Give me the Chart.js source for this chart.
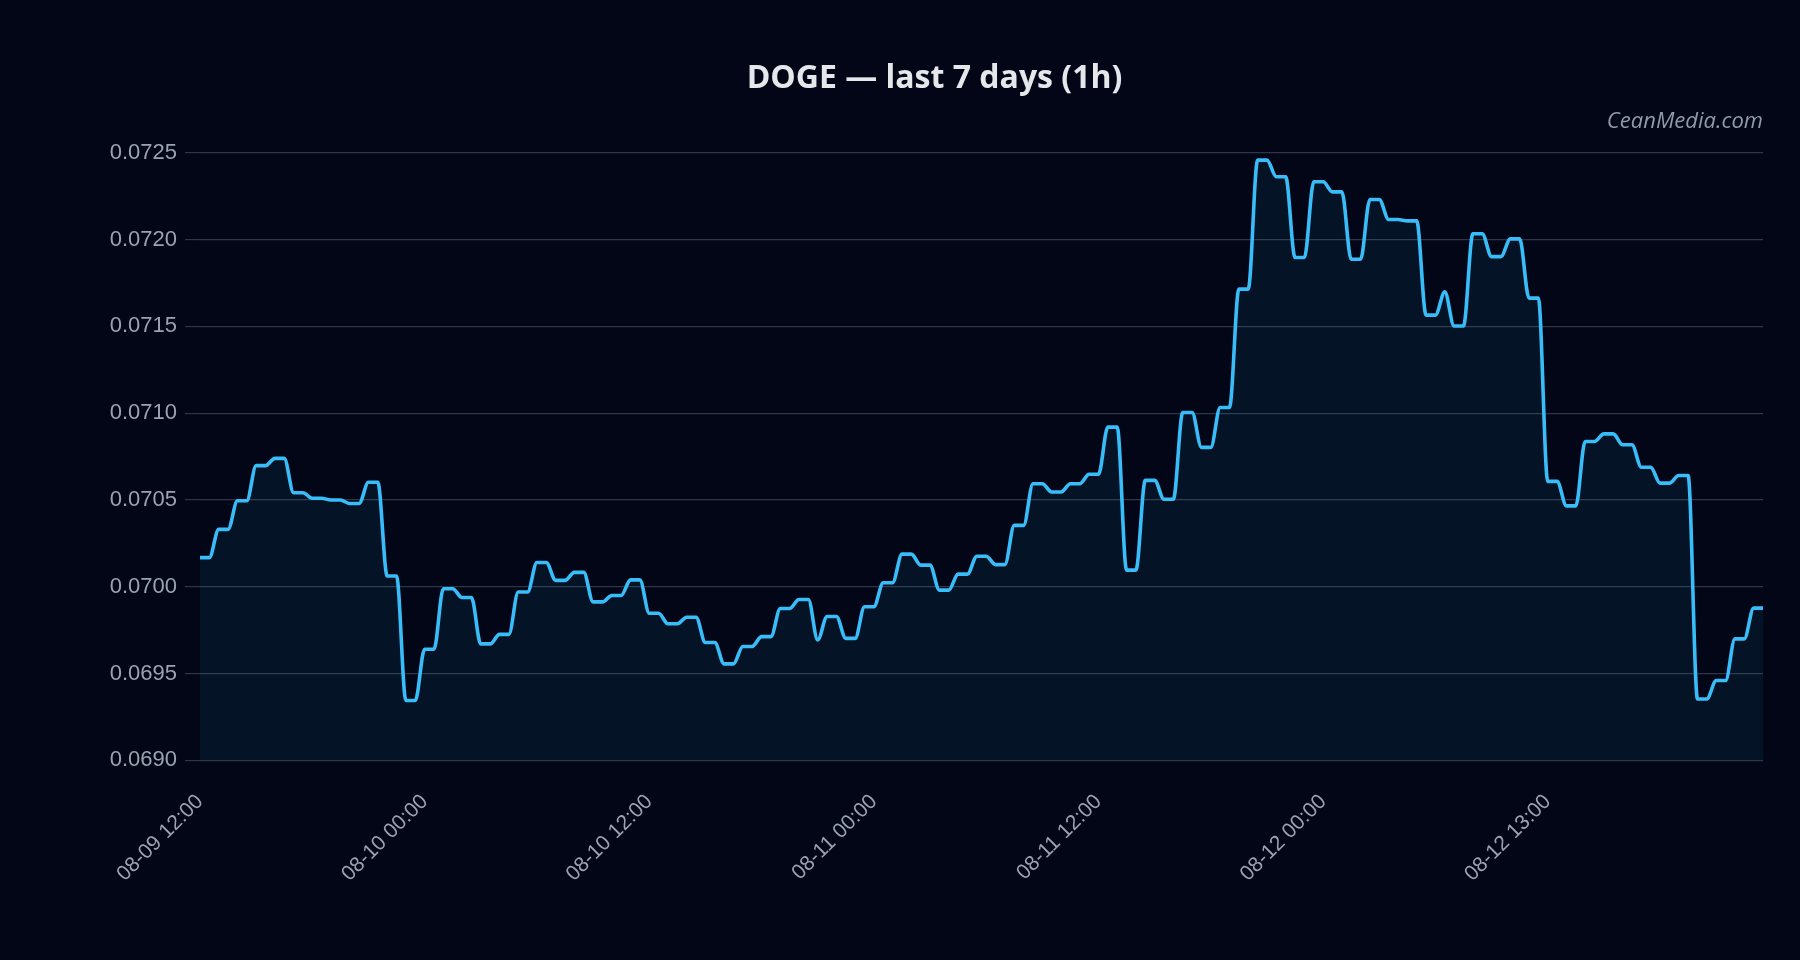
<!DOCTYPE html>
<html><head><meta charset="utf-8">
<script src="https://cdn.jsdelivr.net/npm/chart.js@4.4.1/dist/chart.umd.min.js"></script>
<style>html,body{margin:0;padding:0;background:#020617;}#wrap{width:1800px;height:960px;position:relative;}</style>
</head><body><div id="wrap"><canvas id="c"></canvas></div>
<script>
const titleText = 'DOGE — last 7 days (1h)';
const sourceText = 'CeanMedia.com';
const tickLabels = ['08-09 12:00','08-10 00:00','08-10 12:00','08-11 00:00','08-11 12:00','08-12 00:00','08-12 13:00'];
const tickIndex = [0, 24, 48, 72, 96, 120, 144];
const yTicks = [0.0690, 0.0695, 0.0700, 0.0705, 0.0710, 0.0715, 0.0720, 0.0725];
const prices = [
  0.070168, 0.070168, 0.070331, 0.070331, 0.070496, 0.070496, 0.070698, 0.070698,
  0.070740, 0.070740, 0.070542, 0.070542, 0.070510, 0.070510, 0.070500, 0.070500,
  0.070480, 0.070480, 0.070602, 0.070602, 0.070062, 0.070062, 0.069345, 0.069345,
  0.069640, 0.069640, 0.069989, 0.069989, 0.069938, 0.069938, 0.069671, 0.069671,
  0.069726, 0.069726, 0.069970, 0.069970, 0.070140, 0.070140, 0.070037, 0.070037,
  0.070083, 0.070083, 0.069913, 0.069913, 0.069950, 0.069950, 0.070040, 0.070040,
  0.069848, 0.069848, 0.069787, 0.069787, 0.069825, 0.069825, 0.069679, 0.069679,
  0.069556, 0.069556, 0.069656, 0.069656, 0.069713, 0.069713, 0.069875, 0.069875,
  0.069927, 0.069927, 0.069694, 0.069829, 0.069829, 0.069703, 0.069703, 0.069885,
  0.069885, 0.070023, 0.070023, 0.070188, 0.070188, 0.070125, 0.070125, 0.069981,
  0.069981, 0.070073, 0.070073, 0.070176, 0.070176, 0.070128, 0.070128, 0.070354,
  0.070354, 0.070594, 0.070594, 0.070546, 0.070546, 0.070594, 0.070594, 0.070648,
  0.070648, 0.070920, 0.070920, 0.070096, 0.070096, 0.070613, 0.070613, 0.070504,
  0.070504, 0.071004, 0.071004, 0.070803, 0.070803, 0.071033, 0.071033, 0.071715,
  0.071715, 0.072458, 0.072458, 0.072362, 0.072362, 0.071897, 0.071897, 0.072333,
  0.072333, 0.072275, 0.072275, 0.071887, 0.071887, 0.072231, 0.072231, 0.072116,
  0.072116, 0.072108, 0.072108, 0.071565, 0.071565, 0.071699, 0.071502, 0.071502,
  0.072034, 0.072034, 0.071902, 0.071902, 0.072004, 0.072004, 0.071663, 0.071663,
  0.070607, 0.070607, 0.070466, 0.070466, 0.070837, 0.070837, 0.070881, 0.070881,
  0.070818, 0.070818, 0.070689, 0.070689, 0.070597, 0.070597, 0.070641, 0.070641,
  0.069354, 0.069354, 0.069460, 0.069460, 0.069700, 0.069700, 0.069877, 0.069877
];

Chart.defaults.font.family = "'Liberation Sans', Arial, sans-serif";

const bgPlugin = {
  id: 'bg',
  beforeDraw(c) {
    const ctx = c.ctx;
    ctx.save();
    ctx.fillStyle = '#020617';
    ctx.fillRect(0, 0, c.width, c.height);
    ctx.restore();
  }
};

new Chart(document.getElementById('c'), {
  type: 'line',
  data: {
    datasets: [{
      data: prices.map((v, i) => ({ x: i, y: v })),
      borderColor: '#38bdf8',
      borderWidth: 3.6,
      borderJoinStyle: 'round',
      borderCapStyle: 'round',
      backgroundColor: 'rgba(56,189,248,0.075)',
      fill: 'start',
      pointRadius: 0,
      cubicInterpolationMode: 'monotone'
    }]
  },
  options: {
    responsive: true,
    maintainAspectRatio: false,
    animation: false,
    devicePixelRatio: 1,
    layout: { padding: { left: 106, right: 37, top: 0, bottom: 0 } },
    plugins: {
      legend: { display: false },
      tooltip: { enabled: false },
      title: {
        display: true, text: titleText, color: '#e5e7eb',
        font: { family: "'Open Sans'", size: 32, weight: 'bold' },
        padding: { top: 60, bottom: 0 }
      },
      subtitle: {
        display: true, text: sourceText, align: 'end', color: '#9199aa',
        font: { family: "'Open Sans'", size: 22, style: 'italic' },
        padding: { top: 10, bottom: 18 }
      }
    },
    scales: {
      x: {
        type: 'linear', min: 0, max: prices.length - 1,
        grid: { display: false, drawTicks: false },
        border: { display: false },
        afterBuildTicks(s) { s.ticks = tickIndex.map(v => ({ value: v })); },
        afterFit(s) { s.height = 199.6; },
        ticks: {
          autoSkip: false, minRotation: 45, maxRotation: 45, padding: 29,
          color: '#9ca3af', font: { size: 21 },
          callback(v) { const j = tickIndex.indexOf(v); return j >= 0 ? tickLabels[j] : ''; }
        }
      },
      y: {
        min: 0.0690, max: 0.0725,
        afterBuildTicks(s) { s.ticks = yTicks.map(v => ({ value: v })); },
        afterFit(s) { s.width = 94; },
        grid: { color: 'rgba(148,163,184,0.3)', tickLength: 15, lineWidth: 1.2 },
        border: { display: false },
        ticks: { padding: 8, color: '#9ca3af', font: { size: 22 }, callback: v => Number(v).toFixed(4) }
      }
    }
  },
  plugins: [bgPlugin]
});
</script>
</body></html>
